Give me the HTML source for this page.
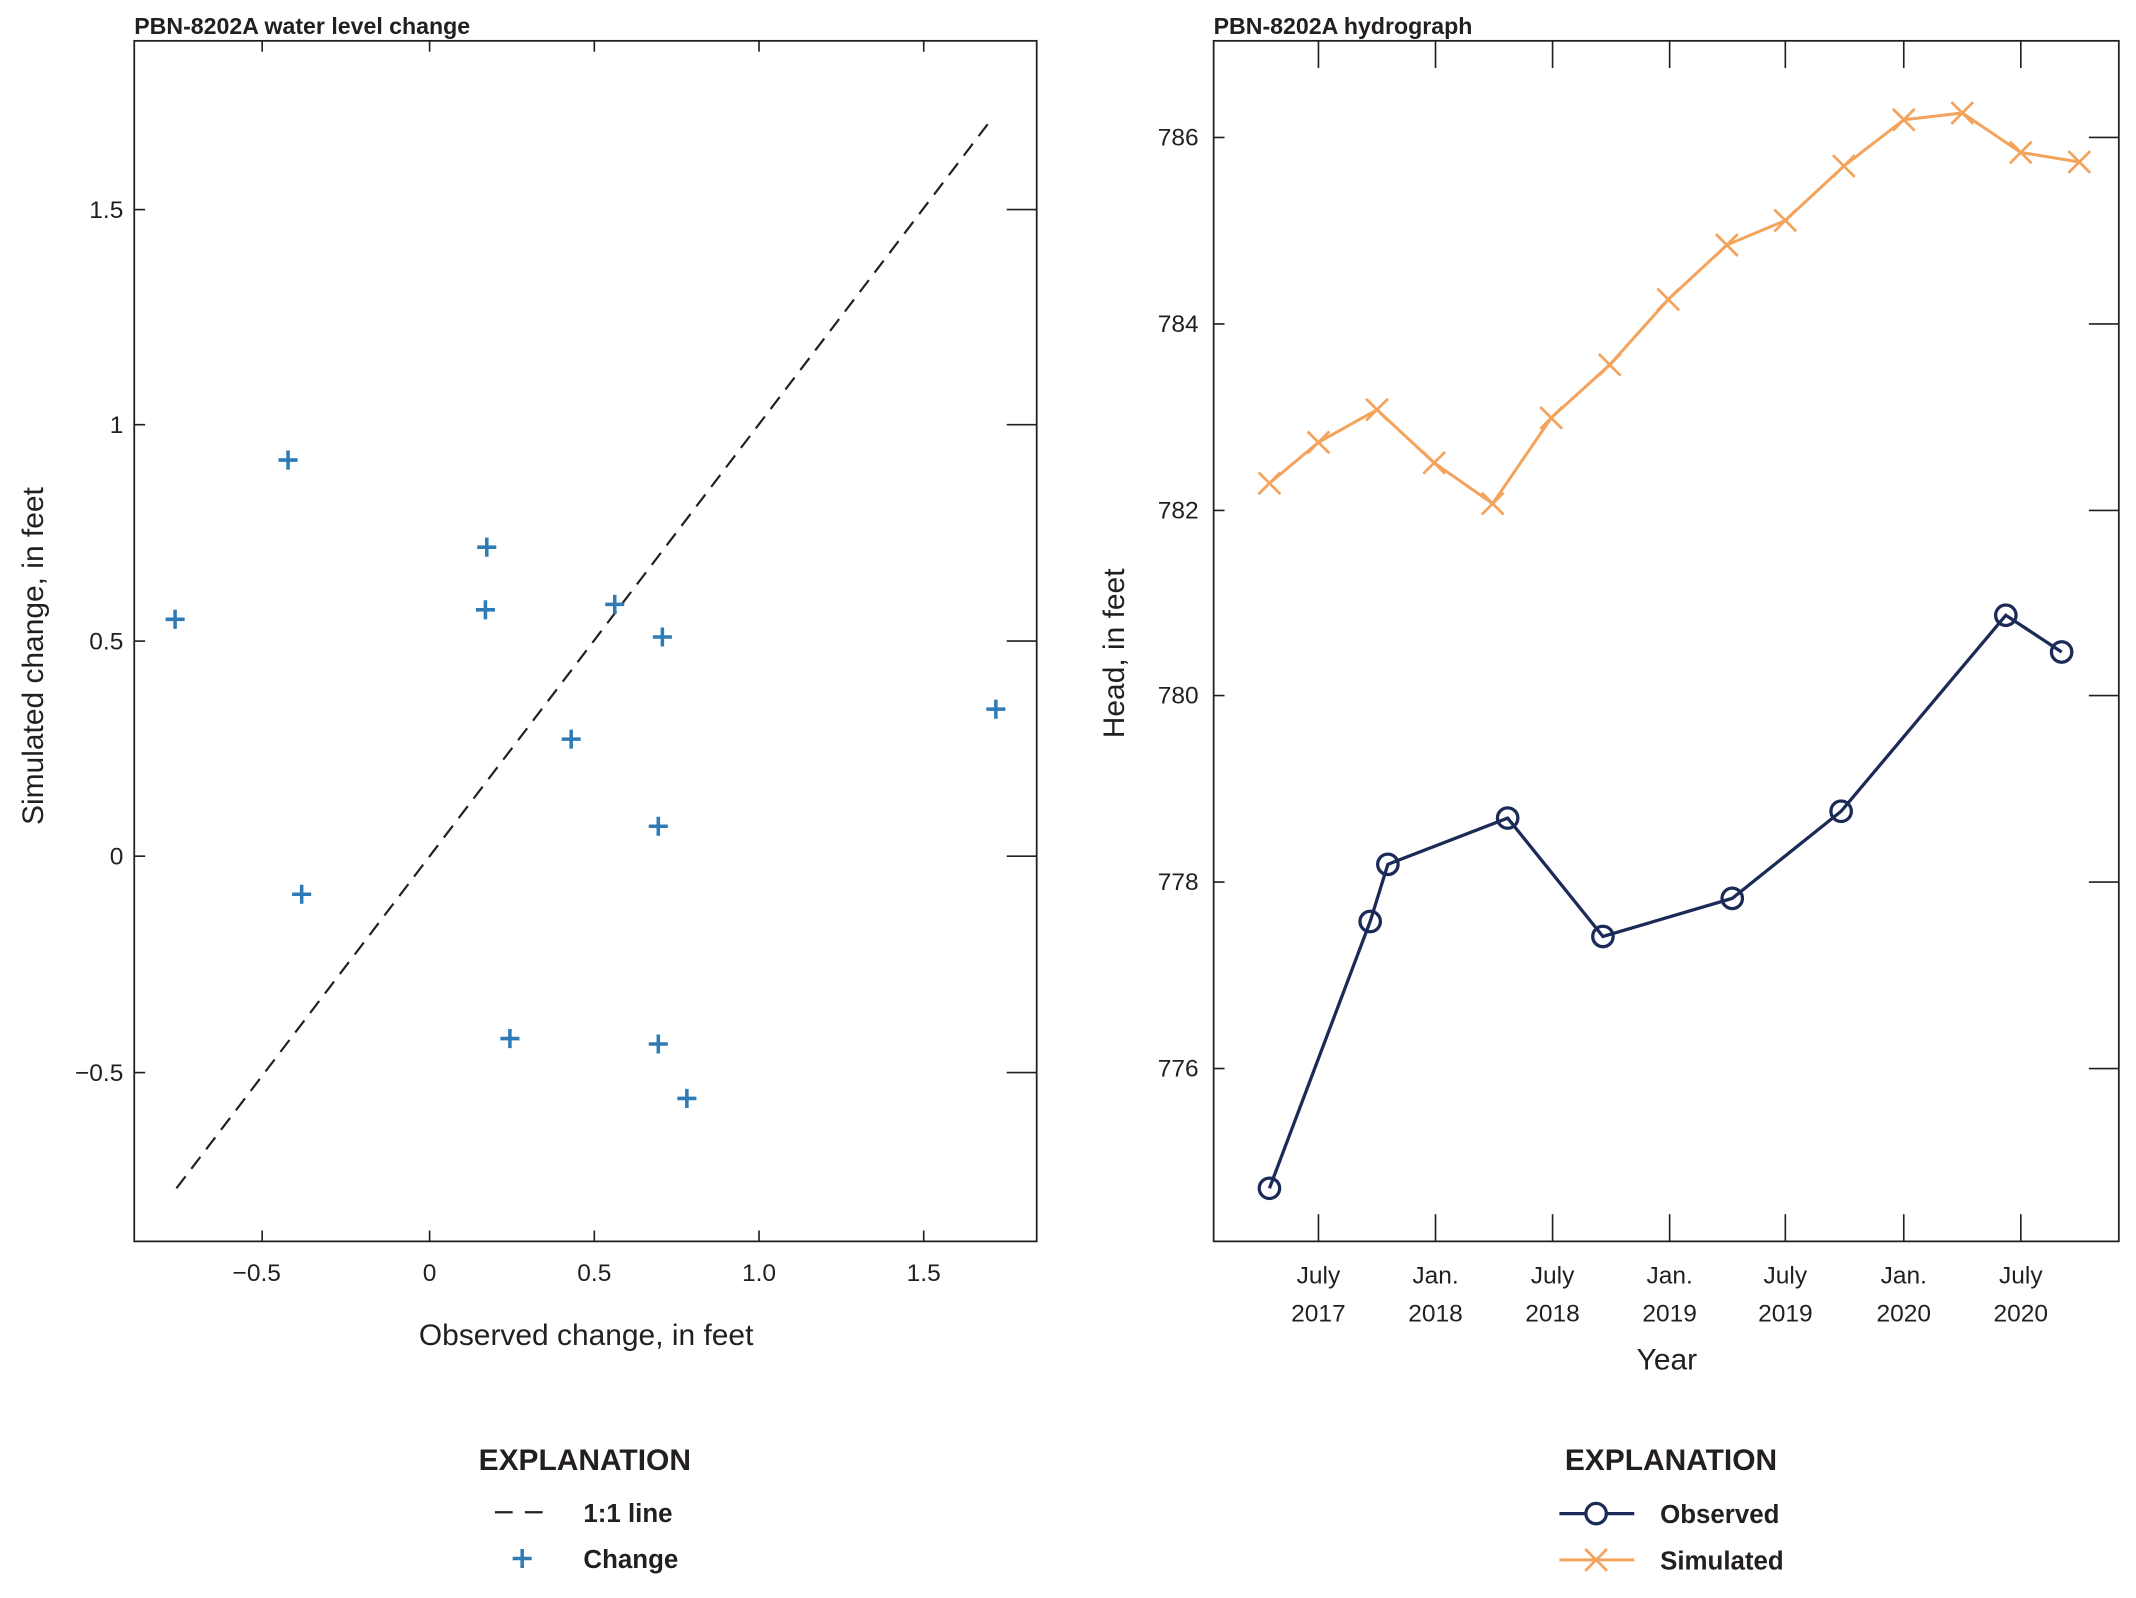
<!DOCTYPE html>
<html><head><meta charset="utf-8"><style>
html,body{margin:0;padding:0;background:#fff;}
svg{display:block;}
text{font-family:"Liberation Sans",sans-serif;fill:#231f20;}
.t{font-size:18px;}
.b{font-weight:bold;}
</style></head><body>
<svg width="2136" height="1598" viewBox="0 0 1568 1174" xmlns="http://www.w3.org/2000/svg">
<rect width="1568" height="1174" fill="#fff"/>
<!-- LEFT PLOT -->
<text x="98" y="25" class="b" font-size="17">PBN-8202A water level change</text>
<rect x="98" y="30" width="663" height="882" fill="none" stroke="#231f20" stroke-width="1.3"/>
<g stroke="#231f20" stroke-width="1.2">
<line x1="192" y1="912" x2="192" y2="904"/><line x1="192" y1="30" x2="192" y2="38"/>
<line x1="315" y1="912" x2="315" y2="904"/><line x1="315" y1="30" x2="315" y2="38"/>
<line x1="436" y1="912" x2="436" y2="904"/><line x1="436" y1="30" x2="436" y2="38"/>
<line x1="557" y1="912" x2="557" y2="904"/><line x1="557" y1="30" x2="557" y2="38"/>
<line x1="678" y1="912" x2="678" y2="904"/><line x1="678" y1="30" x2="678" y2="38"/>
<line x1="98" y1="154" x2="106" y2="154"/><line x1="761" y1="154" x2="739" y2="154"/>
<line x1="98" y1="312" x2="106" y2="312"/><line x1="761" y1="312" x2="739" y2="312"/>
<line x1="98" y1="471" x2="106" y2="471"/><line x1="761" y1="471" x2="739" y2="471"/>
<line x1="98" y1="629" x2="106" y2="629"/><line x1="761" y1="629" x2="739" y2="629"/>
<line x1="98" y1="788" x2="106" y2="788"/><line x1="761" y1="788" x2="739" y2="788"/>
</g>
<g class="t" text-anchor="middle">
<text x="188" y="941">−0.5</text><text x="315" y="941">0</text><text x="436" y="941">0.5</text><text x="557" y="941">1.0</text><text x="678" y="941">1.5</text>
</g>
<g class="t" text-anchor="end">
<text x="90" y="160">1.5</text><text x="90" y="318">1</text><text x="90" y="477">0.5</text><text x="90" y="635">0</text><text x="90" y="794">−0.5</text>
</g>
<text x="430" y="988" font-size="22" text-anchor="middle">Observed change, in feet</text>
<text transform="translate(31,482) rotate(-90)" font-size="22" text-anchor="middle">Simulated change, in feet</text>
<line x1="129" y1="873" x2="729" y2="86" stroke="#231f20" stroke-width="1.6" stroke-dasharray="11,7"/>
<g stroke="#2e7bb5" stroke-width="2.6">
<path d="M121 455h14M128 448v14 M204 338h14M211 331v14 M350 402h14M357 395v14 M349 448h14M356 441v14 M444 444h14M451 437v14 M479 468h14M486 461v14 M412 543h14M419 536v14 M724 521h14M731 514v14 M476 607h14M483 600v14 M214 657h14M221 650v14 M367 763h14M374 756v14 M476 767h14M483 760v14 M497 807h14M504 800v14"/>
</g>
<text x="429" y="1080" font-size="22" class="b" text-anchor="middle">EXPLANATION</text>
<line x1="363" y1="1111" x2="403" y2="1111" stroke="#231f20" stroke-width="1.6" stroke-dasharray="13,9"/>
<text x="428" y="1118" font-size="19" class="b">1:1 line</text>
<path d="M376 1145h14M383 1138v14" stroke="#2e7bb5" stroke-width="2.6"/>
<text x="428" y="1152" font-size="19" class="b">Change</text>

<!-- RIGHT PLOT -->
<text x="891" y="25" class="b" font-size="17">PBN-8202A hydrograph</text>
<rect x="891" y="30" width="665" height="882" fill="none" stroke="#231f20" stroke-width="1.3"/>
<g stroke="#231f20" stroke-width="1.2">
<line x1="968" y1="912" x2="968" y2="892"/><line x1="968" y1="30" x2="968" y2="50"/>
<line x1="1054" y1="912" x2="1054" y2="892"/><line x1="1054" y1="30" x2="1054" y2="50"/>
<line x1="1140" y1="912" x2="1140" y2="892"/><line x1="1140" y1="30" x2="1140" y2="50"/>
<line x1="1226" y1="912" x2="1226" y2="892"/><line x1="1226" y1="30" x2="1226" y2="50"/>
<line x1="1311" y1="912" x2="1311" y2="892"/><line x1="1311" y1="30" x2="1311" y2="50"/>
<line x1="1398" y1="912" x2="1398" y2="892"/><line x1="1398" y1="30" x2="1398" y2="50"/>
<line x1="1484" y1="912" x2="1484" y2="892"/><line x1="1484" y1="30" x2="1484" y2="50"/>
<line x1="891" y1="101" x2="899" y2="101"/><line x1="1556" y1="101" x2="1534" y2="101"/>
<line x1="891" y1="238" x2="899" y2="238"/><line x1="1556" y1="238" x2="1534" y2="238"/>
<line x1="891" y1="375" x2="899" y2="375"/><line x1="1556" y1="375" x2="1534" y2="375"/>
<line x1="891" y1="511" x2="899" y2="511"/><line x1="1556" y1="511" x2="1534" y2="511"/>
<line x1="891" y1="648" x2="899" y2="648"/><line x1="1556" y1="648" x2="1534" y2="648"/>
<line x1="891" y1="785" x2="899" y2="785"/><line x1="1556" y1="785" x2="1534" y2="785"/>
</g>
<g class="t" text-anchor="end">
<text x="880" y="107">786</text><text x="880" y="244">784</text><text x="880" y="381">782</text><text x="880" y="517">780</text><text x="880" y="654">778</text><text x="880" y="791">776</text>
</g>
<g class="t" text-anchor="middle" font-size="19">
<text x="968" y="943">July</text><text x="968" y="971">2017</text>
<text x="1054" y="943">Jan.</text><text x="1054" y="971">2018</text>
<text x="1140" y="943">July</text><text x="1140" y="971">2018</text>
<text x="1226" y="943">Jan.</text><text x="1226" y="971">2019</text>
<text x="1311" y="943">July</text><text x="1311" y="971">2019</text>
<text x="1398" y="943">Jan.</text><text x="1398" y="971">2020</text>
<text x="1484" y="943">July</text><text x="1484" y="971">2020</text>
</g>
<text x="1224" y="1006" font-size="22" text-anchor="middle">Year</text>
<text transform="translate(825,480) rotate(-90)" font-size="22" text-anchor="middle">Head, in feet</text>
<polyline fill="none" stroke="#f4a35c" stroke-width="2.2" points="932,355 968,325 1011,301 1053,340 1096,370 1139,307 1182,268 1225,220 1268,180 1311,162 1354,122 1398,88 1441,83 1484,112 1527,119"/>
<g stroke="#f4a35c" stroke-width="2">
<path d="M924 347l16 16M924 363l16-16 M960 317l16 16M960 333l16-16 M1003 293l16 16M1003 309l16-16 M1045 332l16 16M1045 348l16-16 M1088 362l16 16M1088 378l16-16 M1131 299l16 16M1131 315l16-16 M1174 260l16 16M1174 276l16-16 M1217 212l16 16M1217 228l16-16 M1260 172l16 16M1260 188l16-16 M1303 154l16 16M1303 170l16-16 M1346 114l16 16M1346 130l16-16 M1390 80l16 16M1390 96l16-16 M1433 75l16 16M1433 91l16-16 M1476 104l16 16M1476 120l16-16 M1519 111l16 16M1519 127l16-16"/>
</g>
<polyline fill="none" stroke="#1b2a57" stroke-width="2.4" points="932,873 1006,677 1019,635 1107,601 1177,688 1272,660 1352,596 1473,452 1514,479"/>
<g fill="none" stroke="#1b2a57" stroke-width="2.4">
<circle cx="932" cy="873" r="7.5"/><circle cx="1006" cy="677" r="7.5"/><circle cx="1019" cy="635" r="7.5"/><circle cx="1107" cy="601" r="7.5"/><circle cx="1177" cy="688" r="7.5"/><circle cx="1272" cy="660" r="7.5"/><circle cx="1352" cy="596" r="7.5"/><circle cx="1473" cy="452" r="7.5"/><circle cx="1514" cy="479" r="7.5"/>
</g>
<text x="1227" y="1080" font-size="22" class="b" text-anchor="middle">EXPLANATION</text>
<line x1="1145" y1="1112" x2="1200" y2="1112" stroke="#1b2a57" stroke-width="2.4"/>
<circle cx="1172" cy="1112" r="7.5" fill="#fff" stroke="#1b2a57" stroke-width="2.4"/>
<text x="1219" y="1119" font-size="19" class="b">Observed</text>
<line x1="1145" y1="1146" x2="1200" y2="1146" stroke="#f4a35c" stroke-width="2.2"/>
<path d="M1164 1138l16 16M1164 1154l16-16" stroke="#f4a35c" stroke-width="2"/>
<text x="1219" y="1153" font-size="19" class="b">Simulated</text>
</svg>
</body></html>
